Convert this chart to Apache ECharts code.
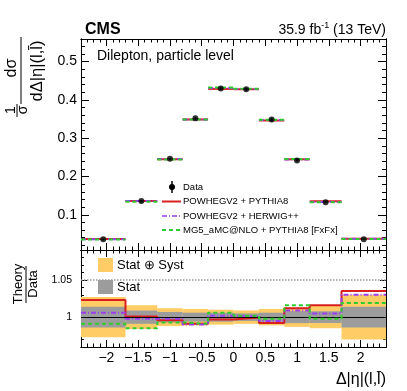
<!DOCTYPE html>
<html>
<head>
<meta charset="utf-8">
<script src="https://cdn.jsdelivr.net/npm/echarts@6/dist/echarts.min.js"></script>
<style>
html, body { margin: 0; padding: 0; background: #fff; }
#chart { width: 407px; height: 391px; }
</style>
</head>
<body>
<div id="chart"></div>
<script>
// bins in Δ|η|(l,l̄)
const binEdges = [-2.4, -1.7, -1.2, -0.8, -0.4, 0, 0.4, 0.8, 1.2, 1.7, 2.4];
// normalised differential cross section (data)
const dataVals = [0.036, 0.136, 0.246, 0.352, 0.430, 0.428, 0.349, 0.242, 0.133, 0.036];
// relative uncertainties of the data
const totErr = [0.027, 0.016, 0.012, 0.011, 0.010, 0.009, 0.011, 0.013, 0.015, 0.030];
const statErr = [0.014, 0.009, 0.007, 0.006, 0.006, 0.005, 0.006, 0.008, 0.008, 0.014];
// theory / data
const ratioPowPy8 = [1.023, 1.001, 0.996, 0.991, 0.997, 0.9995, 0.992, 1.012, 1.016, 1.035];
const ratioPowHw = [1.006, 0.998, 0.998, 0.990, 1.002, 1.001, 0.995, 1.009, 1.005, 1.030];
const ratioMg5 = [0.991, 0.985, 0.993, 0.991, 1.006, 1.002, 0.998, 1.016, 0.998, 1.019];
// tick labels
const xTicks = [-2, -1.5, -1, -0.5, 0, 0.5, 1, 1.5, 2];
const yTicksTop = [0.1, 0.2, 0.3, 0.4, 0.5];
const yTicksRatio = [1, 1.05];

const FONT = 'Liberation Sans';
const RED = '#d92020', PURPLE = '#9b3cf0', GREEN = '#2ecc2e';
const ORANGE = '#ffcc66', GREY = '#9c9c9c';

const X_MIN = -2.4, X_MAX = 2.4;
const Y_MIN = 0.008, Y_MAX = 0.559;
const R_MIN = 0.96, R_MAX = 1.09;

function steps(from, to, step) {
  const out = [];
  for (let v = from; v <= to + 1e-9; v += step) out.push(Math.round(v * 1000) / 1000);
  return out;
}
const minus = v => String(v).replace('-', '\u2212');

// one major + one minor tick axis for each side
function axisPair(gridIndex, position, min, max, major, minor, majLen, minLen, label) {
  const base = {
    type: 'value', gridIndex, position, min, max,
    axisLine: { show: true, onZero: false, lineStyle: { color: '#000', width: 1 } },
    splitLine: { show: false }
  };
  return [
    Object.assign({}, base, {
      axisTick: { show: true, inside: true, length: majLen, customValues: major, lineStyle: { color: '#000' } },
      axisLabel: label ? Object.assign({ customValues: major }, label) : { show: false }
    }),
    Object.assign({}, base, {
      axisTick: { show: true, inside: true, length: minLen, customValues: minor, lineStyle: { color: '#000' } },
      axisLabel: { show: false }
    })
  ];
}

const xMinor = steps(-2.4, 2.4, 0.1);
const xAxes = [].concat(
  axisPair(0, 'bottom', X_MIN, X_MAX, xTicks, xMinor, 7, 3.5),
  axisPair(0, 'top', X_MIN, X_MAX, xTicks, xMinor, 7, 3.5),
  axisPair(1, 'bottom', X_MIN, X_MAX, xTicks, xMinor, 7, 3.5,
    { show: true, margin: 4, color: '#000', fontFamily: FONT, fontSize: 14, formatter: minus }),
  axisPair(1, 'top', X_MIN, X_MAX, xTicks, xMinor, 7, 3.5)
);
const yMinorTop = steps(0.02, 0.54, 0.02);
const yMinorRatio = steps(0.96, 1.09, 0.01);
const yAxes = [].concat(
  axisPair(0, 'left', Y_MIN, Y_MAX, yTicksTop, yMinorTop, 8, 4,
    { show: true, margin: 4, color: '#000', fontFamily: FONT, fontSize: 14, formatter: v => v.toFixed(1) }),
  axisPair(0, 'right', Y_MIN, Y_MAX, yTicksTop, yMinorTop, 8, 4),
  axisPair(1, 'left', R_MIN, R_MAX, yTicksRatio, yMinorRatio, 6, 3,
    { show: true, margin: 9, color: '#000', fontFamily: FONT, fontSize: 10.5, formatter: v => String(v) }),
  axisPair(1, 'right', R_MIN, R_MAX, yTicksRatio, yMinorRatio, 6, 3)
);
const X_TOP = 0, Y_TOP = 0, X_RAT = 4, Y_RAT = 4;

// horizontal model segments in the upper panel
function segSeries(name, ratio, color, dash, z) {
  return {
    type: 'custom', name, xAxisIndex: X_TOP, yAxisIndex: Y_TOP, z,
    data: dataVals.map((d, i) => [binEdges[i], binEdges[i + 1], d * ratio[i]]),
    encode: { x: [0, 1], y: 2 },
    renderItem: (params, api) => {
      const a = api.coord([api.value(0), api.value(2)]);
      const b = api.coord([api.value(1), api.value(2)]);
      return { type: 'line', shape: { x1: a[0], y1: a[1], x2: b[0], y2: b[1] },
        style: { stroke: color, lineWidth: 2, lineDash: dash } };
    }
  };
}

// uncertainty bands in the ratio panel
function bandSeries(name, err, color, z, extra) {
  return Object.assign({
    type: 'custom', name, xAxisIndex: X_RAT, yAxisIndex: Y_RAT, z,
    data: err.map((e, i) => [binEdges[i], binEdges[i + 1], 1 - e, 1 + e]),
    encode: { x: [0, 1], y: [2, 3] },
    renderItem: (params, api) => {
      const a = api.coord([api.value(0), api.value(3)]);
      const b = api.coord([api.value(1), api.value(2)]);
      return { type: 'rect', shape: { x: a[0], y: a[1], width: b[0] - a[0], height: b[1] - a[1] },
        style: { fill: color } };
    }
  }, extra || {});
}

// step histogram of the ratio
function stepSeries(name, ratio, color, dash, z) {
  const pts = [];
  ratio.forEach((r, i) => { pts.push([binEdges[i], r], [binEdges[i + 1], r]); });
  return {
    type: 'line', name, xAxisIndex: X_RAT, yAxisIndex: Y_RAT, z,
    data: pts, showSymbol: false, symbol: 'none',
    lineStyle: { color, width: 2, type: dash }
  };
}

const centers = dataVals.map((d, i) => (binEdges[i] + binEdges[i + 1]) / 2);

const series = [
  segSeries('POWHEGV2 + PYTHIA8', ratioPowPy8, RED, null, 3),
  segSeries('POWHEGV2 + HERWIG++', ratioPowHw, PURPLE, [5, 2, 1, 2], 4),
  segSeries('MG5_aMC@NLO + PYTHIA8 [FxFx]', ratioMg5, GREEN, [4, 3], 5),
  {
    type: 'custom', name: 'Data err', xAxisIndex: X_TOP, yAxisIndex: Y_TOP, z: 6,
    data: dataVals.map((d, i) => [centers[i], d * (1 - totErr[i]), d * (1 + totErr[i])]),
    encode: { x: 0, y: [1, 2] },
    renderItem: (params, api) => {
      const a = api.coord([api.value(0), api.value(1)]);
      const b = api.coord([api.value(0), api.value(2)]);
      return { type: 'line', shape: { x1: a[0], y1: a[1], x2: b[0], y2: b[1] },
        style: { stroke: '#000', lineWidth: 1.5 } };
    }
  },
  {
    type: 'scatter', name: 'Data', xAxisIndex: X_TOP, yAxisIndex: Y_TOP, z: 7,
    data: dataVals.map((d, i) => [centers[i], d]),
    symbol: 'circle', symbolSize: 6, itemStyle: { color: '#000' }
  },
  bandSeries('Stat \u2295 Syst', totErr, ORANGE, 1),
  bandSeries('Stat', statErr, GREY, 2, {
    markLine: {
      silent: true, symbol: 'none', label: { show: false },
      data: [
        { yAxis: 1, lineStyle: { color: '#000', width: 1, type: 'solid' } },
        { yAxis: 1.05, lineStyle: { color: '#999', width: 1.5, type: [1.5, 1.5] } }
      ]
    }
  }),
  stepSeries('POWHEGV2 + PYTHIA8 ratio', ratioPowPy8, RED, 'solid', 3),
  stepSeries('POWHEGV2 + HERWIG++ ratio', ratioPowHw, PURPLE, [5, 2, 1, 2], 4),
  stepSeries('MG5 ratio', ratioMg5, GREEN, [4, 3], 5)
];

function txt(x, y, text, size, opts) {
  return Object.assign({
    type: 'text', x, y, z: 100,
    style: Object.assign({ text, fontFamily: FONT, fontSize: size, fill: '#000',
      textAlign: 'left', textVerticalAlign: 'middle' }, (opts && opts.style) || {})
  }, opts && opts.rotation !== undefined ? { rotation: opts.rotation } : {});
}
function seg(x1, y1, x2, y2, color, width, dash) {
  return { type: 'line', z: 100, shape: { x1, y1, x2, y2 },
    style: { stroke: color, lineWidth: width, lineDash: dash || null } };
}
const ROT = Math.PI / 2;
const mid = { style: { textAlign: 'center' }, rotation: ROT };

const graphic = [
  txt(85, 30, 'CMS', 16, { style: { fontWeight: 'bold' } }),
  {
    type: 'text', x: 386, y: 30, z: 100,
    style: {
      text: '{n|35.9 fb}{s|-1}{n| (13 TeV)}', textAlign: 'right', textVerticalAlign: 'middle',
      rich: {
        n: { fontFamily: FONT, fontSize: 14, fill: '#000' },
        s: { fontFamily: FONT, fontSize: 9, fill: '#000', verticalAlign: 'top', padding: [0, 0, 8, 0] }
      }
    }
  },
  txt(97, 56, 'Dilepton, particle level', 14),
  // y title of the upper panel
  txt(12, 68, 'd\u03c3', 16, mid),
  seg(21, 37, 21, 104, '#000', 1),
  txt(37, 71, 'd\u0394|\u03b7|(l,l\u0304)', 16.5, mid),
  txt(11, 110, '1', 14, mid),
  seg(17, 104, 17, 117, '#000', 1),
  txt(23, 110, '\u03c3', 14, mid),
  // y title of the ratio panel
  txt(18, 284, 'Theory', 13, mid),
  seg(26, 266, 26, 303, '#000', 1),
  txt(33, 284, 'Data', 13, mid),
  // x title
  txt(386, 380, '\u0394|\u03b7|(l,l\u0304)', 16, { style: { textAlign: 'right' } }),
  // legend upper panel
  seg(172, 181, 172, 193, '#000', 1.5),
  { type: 'circle', z: 100, shape: { cx: 172, cy: 187, r: 3 }, style: { fill: '#000' } },
  txt(183, 187, 'Data', 9.5),
  seg(162, 201.5, 181, 201.5, RED, 2),
  txt(183, 201.5, 'POWHEGV2 + PYTHIA8', 9.5),
  seg(162, 216, 181, 216, PURPLE, 1.5, [5, 2, 1, 2]),
  txt(183, 216, 'POWHEGV2 + HERWIG++', 9.5),
  seg(162, 230, 181, 230, GREEN, 2, [4, 3]),
  txt(183, 230, 'MG5_aMC@NLO + PYTHIA8 [FxFx]', 9.5),
  // legend ratio panel
  { type: 'rect', z: 100, shape: { x: 98, y: 258, width: 15, height: 14 }, style: { fill: ORANGE } },
  txt(117, 265, 'Stat \u2295 Syst', 13),
  { type: 'rect', z: 100, shape: { x: 98, y: 280, width: 15, height: 14 }, style: { fill: GREY } },
  txt(117, 287, 'Stat', 13)
];

const chart = echarts.init(document.getElementById('chart'), null, { renderer: 'canvas' });
chart.setOption({
  animation: false,
  backgroundColor: '#fff',
  grid: [
    { left: 81, right: 21, top: 39, height: 211 },
    { left: 81, right: 21, top: 250, height: 97 }
  ],
  xAxis: xAxes,
  yAxis: yAxes,
  series,
  graphic
});
</script>
</body>
</html>
